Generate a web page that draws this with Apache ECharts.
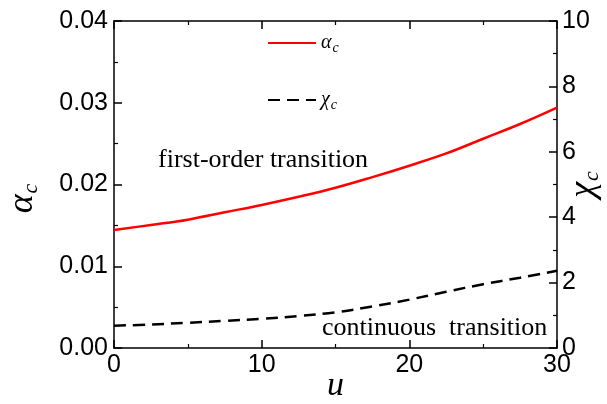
<!DOCTYPE html>
<html>
<head>
<meta charset="utf-8">
<script src="https://cdn.jsdelivr.net/npm/echarts@6/dist/echarts.min.js"></script>
<style>
  html, body { margin: 0; padding: 0; background: #fff; }
  #chart { width: 607px; height: 404px; }
</style>
</head>
<body>
<div id="chart"></div>
<script>
// u values (x axis)
var uVals = [0, 2.5, 5, 7.5, 10, 12.5, 15, 17.5, 20, 22.5, 25, 27.5, 30];
// alpha_c, left axis
var alphaC = [0.01443, 0.01505, 0.0157, 0.0166, 0.0175, 0.0185, 0.0196, 0.0209, 0.0223, 0.0238, 0.0256, 0.0274, 0.0294];
// chi_c, right axis
var chiC = [0.68, 0.72, 0.77, 0.83, 0.89, 0.98, 1.09, 1.27, 1.48, 1.72, 1.95, 2.15, 2.36];

var sans = 'Liberation Sans, Arial, sans-serif';
var serif = 'Liberation Serif, Times New Roman, serif';

function pairs(xs, ys) {
  var out = [];
  for (var i = 0; i < xs.length; i++) out.push([xs[i], ys[i]]);
  return out;
}

var chart = echarts.init(document.getElementById('chart'));

var axisCommon = {
  nameMoveOverlap: false,
  axisLine: { show: true, onZero: false, lineStyle: { color: '#000', width: 1.5 } },
  axisTick: { show: true, inside: true, length: 8, lineStyle: { color: '#000', width: 1.5 } },
  minorTick: { show: true, splitNumber: 2, length: 4, lineStyle: { color: '#000', width: 1.2 } },
  splitLine: { show: false }
};

var subRich = function (big, small, pad) {
  return {
    g: { fontFamily: serif, fontStyle: 'italic', fontSize: big, color: '#000' },
    s: { fontFamily: serif, fontStyle: 'italic', fontSize: small, color: '#000', verticalAlign: 'bottom', padding: [pad, 0, 0, 1] }
  };
};

var option = {
  animation: false,
  backgroundColor: '#fff',
  grid: { left: 114, right: 50, top: 21, bottom: 56, outerBoundsMode: 'none', containLabel: false },
  legend: {
    orient: 'vertical',
    left: 262,
    top: 28,
    itemGap: 35,
    itemWidth: 48,
    itemHeight: 14,
    itemStyle: { opacity: 0 },
    data: ['alpha', 'chi'],
    formatter: function (n) {
      return n === 'alpha' ? '{g|α}{s|c}' : '{g|χ}{s|c}';
    },
    textStyle: { rich: subRich(20, 14, 10) }
  },
  xAxis: [
    Object.assign({}, axisCommon, {
      type: 'value', min: 0, max: 30, interval: 10, position: 'bottom',
      axisLabel: { color: '#000', fontFamily: sans, fontSize: 25, margin: 5 },
      name: 'u', nameLocation: 'middle', nameGap: 21,
      nameTextStyle: { fontFamily: serif, fontStyle: 'italic', fontSize: 34, color: '#000' }
    }),
    Object.assign({}, axisCommon, {
      type: 'value', min: 0, max: 30, interval: 10, position: 'top',
      axisLabel: { show: false }
    })
  ],
  yAxis: [
    Object.assign({}, axisCommon, {
      type: 'value', min: 0, max: 0.04, interval: 0.01, position: 'left',
      axisLabel: { color: '#000', fontFamily: sans, fontSize: 25, margin: 6,
        formatter: function (v) { return v.toFixed(2); } },
      name: '{g|α}{s|c}', nameLocation: 'middle', nameGap: 72, nameRotate: 90,
      nameTextStyle: { padding: [0, 28, 0, 0], rich: subRich(36, 22, 16) }
    }),
    Object.assign({}, axisCommon, {
      type: 'value', min: 0, max: 10, interval: 2, position: 'right',
      axisLabel: { color: '#000', fontFamily: sans, fontSize: 25, margin: 5 },
      name: '{g|χ}{s|c}', nameLocation: 'middle', nameGap: 8, nameRotate: 90,
      nameTextStyle: { rich: subRich(36, 22, 16) }
    })
  ],
  series: [
    {
      name: 'alpha', type: 'line', xAxisIndex: 0, yAxisIndex: 0,
      data: pairs(uVals, alphaC), smooth: 0.4, symbol: 'none',
      lineStyle: { color: '#ff0000', width: 2.5 }, itemStyle: { color: '#ff0000' }
    },
    {
      name: 'chi', type: 'line', xAxisIndex: 0, yAxisIndex: 1,
      data: pairs(uVals, chiC), smooth: 0.4, symbol: 'none',
      lineStyle: { color: '#000', width: 2.5, type: [12, 7] }, itemStyle: { color: '#000' }
    }
  ],
  graphic: [
    { type: 'text', left: 158, top: 147,
      style: { text: 'first-order transition', font: '26px ' + serif, fill: '#000' } },
    { type: 'text', left: 322, top: 315,
      style: { text: 'continuous  transition', font: '26px ' + serif, fill: '#000' } }
  ]
};

chart.setOption(option);
</script>
</body>
</html>
